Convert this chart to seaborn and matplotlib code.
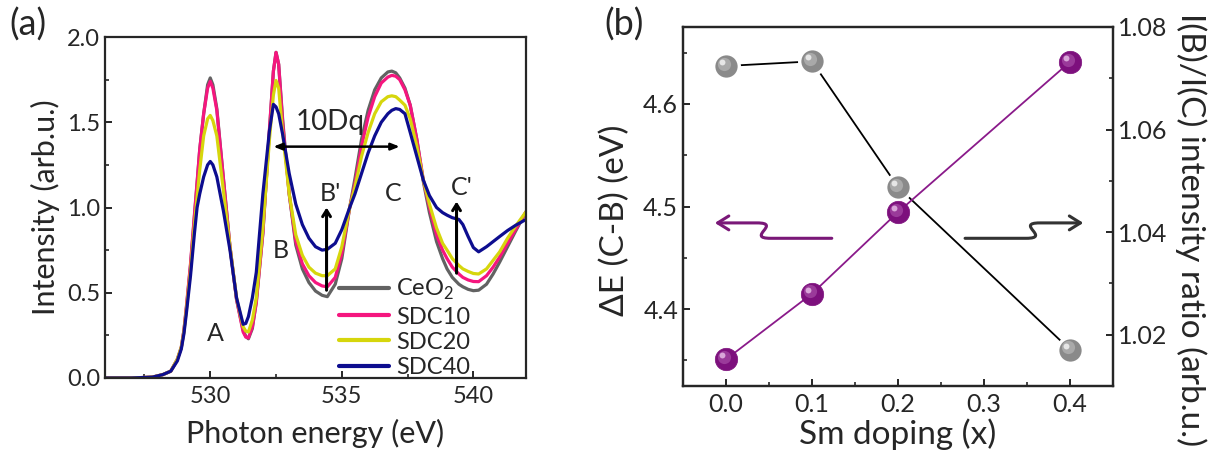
import matplotlib
matplotlib.use("Agg")
import matplotlib.pyplot as plt
import matplotlib.transforms as mtransforms
from matplotlib.path import Path
from matplotlib.patches import FancyArrowPatch
from matplotlib.ticker import MultipleLocator, FormatStrFormatter
import pandas as pd
import seaborn as sns

# ---- panel (a): O K-edge spectra ----
ENERGY = [526.0, 527.0, 527.8, 528.2, 528.5, 528.75, 528.9, 529.0, 529.1, 529.25,
          529.4, 529.5, 529.6, 529.75, 529.9, 530.0, 530.1, 530.25, 530.5, 530.75,
          531.0, 531.25, 531.35, 531.45, 531.6, 531.75, 532.0, 532.25, 532.4, 532.5,
          532.6, 532.75, 533.0, 533.25, 533.5, 533.75, 534.0, 534.25, 534.45, 534.75,
          535.0, 535.3, 535.5, 535.75, 536.0, 536.25, 536.5, 536.75, 536.9, 537.05,
          537.2, 537.4, 537.6, 537.85, 538.1, 538.33, 538.6, 538.83, 539.0, 539.2,
          539.45, 539.6, 539.8, 540.0, 540.2, 540.5, 540.75, 541.0, 541.3, 541.6,
          542.0]

CEO2 = [0.0, 0.0, 0.005, 0.02, 0.04, 0.11, 0.18, 0.28, 0.42, 0.66,
        0.95, 1.14, 1.34, 1.55, 1.72, 1.76, 1.72, 1.58, 1.17, 0.77,
        0.46, 0.28, 0.245, 0.23, 0.29, 0.45, 0.85, 1.45, 1.80, 1.91,
        1.84, 1.52, 1.08, 0.78, 0.64, 0.56, 0.51, 0.485, 0.477, 0.55,
        0.70, 1.00, 1.17, 1.40, 1.57, 1.69, 1.76, 1.795, 1.80, 1.79,
        1.76, 1.70, 1.60, 1.40, 1.15, 0.97, 0.80, 0.70, 0.64, 0.59,
        0.55, 0.535, 0.52, 0.512, 0.515, 0.55, 0.61, 0.68, 0.77, 0.86,
        0.975]

SDC10 = [0.0, 0.0, 0.005, 0.02, 0.04, 0.11, 0.18, 0.28, 0.43, 0.67,
         0.96, 1.15, 1.34, 1.55, 1.70, 1.74, 1.70, 1.57, 1.17, 0.77,
         0.46, 0.27, 0.24, 0.235, 0.30, 0.44, 0.85, 1.46, 1.80, 1.91,
         1.84, 1.50, 1.08, 0.80, 0.67, 0.60, 0.56, 0.54, 0.535, 0.59,
         0.73, 1.00, 1.14, 1.36, 1.53, 1.65, 1.73, 1.765, 1.775, 1.77,
         1.75, 1.69, 1.60, 1.40, 1.16, 1.00, 0.84, 0.75, 0.70, 0.65,
         0.61, 0.59, 0.575, 0.566, 0.565, 0.60, 0.65, 0.71, 0.79, 0.87,
         0.975]

SDC20 = [0.0, 0.0, 0.005, 0.02, 0.04, 0.11, 0.18, 0.27, 0.41, 0.63,
         0.90, 1.06, 1.22, 1.42, 1.52, 1.54, 1.51, 1.42, 1.10, 0.77,
         0.47, 0.30, 0.275, 0.27, 0.34, 0.47, 0.88, 1.40, 1.66, 1.745,
         1.70, 1.44, 1.08, 0.84, 0.72, 0.65, 0.615, 0.60, 0.60, 0.64,
         0.77, 1.00, 1.12, 1.30, 1.44, 1.55, 1.62, 1.65, 1.655, 1.65,
         1.63, 1.60, 1.52, 1.36, 1.16, 1.02, 0.88, 0.79, 0.75, 0.70,
         0.66, 0.64, 0.625, 0.613, 0.61, 0.64, 0.69, 0.74, 0.82, 0.89,
         0.975]

SDC40 = [0.0, 0.0, 0.005, 0.02, 0.04, 0.10, 0.17, 0.26, 0.39, 0.60,
         0.85, 1.00, 1.08, 1.18, 1.25, 1.27, 1.25, 1.18, 0.98, 0.75,
         0.47, 0.315, 0.32, 0.36, 0.47, 0.62, 1.08, 1.45, 1.605, 1.59,
         1.55, 1.43, 1.20, 1.02, 0.90, 0.82, 0.77, 0.75, 0.755, 0.79,
         0.87, 1.00, 1.08, 1.20, 1.32, 1.42, 1.50, 1.55, 1.57, 1.58,
         1.575, 1.55, 1.44, 1.30, 1.16, 1.07, 1.00, 0.97, 0.955, 0.94,
         0.93, 0.90, 0.83, 0.765, 0.74, 0.77, 0.80, 0.83, 0.865, 0.895,
         0.93]

SAMPLE_NAMES = ["CeO$_2$", "SDC10", "SDC20", "SDC40"]
SAMPLE_COLORS = ["#626262", "#f5167e", "#d6d60c", "#0d0d8f"]

# ---- panel (b): peak separation and intensity ratio ----
SM_DOPING = [0.0, 0.1, 0.2, 0.4]
DELTA_E = [4.351, 4.415, 4.4945, 4.641]
INTENSITY_RATIO = [1.0724, 1.0733, 1.0488, 1.0171]

PURPLE = "#7d107d"
PURPLE_LINE = "#8a1a8a"

sns.set_style("ticks")
plt.rcParams["font.family"] = ["Lato", "DejaVu Sans"]
plt.rcParams["mathtext.fontset"] = "custom"
plt.rcParams["mathtext.rm"] = "Lato"
plt.rcParams["axes.linewidth"] = 1.6
plt.rcParams["xtick.direction"] = "in"
plt.rcParams["ytick.direction"] = "in"
plt.rcParams["xtick.major.size"] = 5
plt.rcParams["ytick.major.size"] = 5
plt.rcParams["xtick.minor.size"] = 3
plt.rcParams["ytick.minor.size"] = 3
plt.rcParams["xtick.major.width"] = 1.4
plt.rcParams["ytick.major.width"] = 1.4
plt.rcParams["xtick.minor.width"] = 1.2
plt.rcParams["ytick.minor.width"] = 1.2

TICK_FS_A = 17
LABEL_FS_A = 22
TICK_FS_B = 18
LABEL_FS_B = 24

fig = plt.figure(figsize=(12.19, 4.59), dpi=100)
ax_a = fig.add_axes([105 / 1219, 81 / 459, 421 / 1219, 341 / 459])
ax_b = fig.add_axes([683 / 1219, 73 / 459, 430 / 1219, 359 / 459])

# ---------- (a) ----------
frames = []
for name, vals in zip(SAMPLE_NAMES, [CEO2, SDC10, SDC20, SDC40]):
    frames.append(pd.DataFrame({"energy": ENERGY, "intensity": vals, "sample": name}))
spec = pd.concat(frames, ignore_index=True)

sns.lineplot(data=spec, x="energy", y="intensity", hue="sample",
             hue_order=SAMPLE_NAMES, palette=SAMPLE_COLORS, estimator=None,
             sort=False, linewidth=2.3, ax=ax_a, legend=True)

ax_a.set_xlim(526, 542)
ax_a.set_ylim(0, 2.0)
ax_a.xaxis.set_major_locator(MultipleLocator(5))
ax_a.xaxis.set_minor_locator(MultipleLocator(2.5))
ax_a.yaxis.set_major_locator(MultipleLocator(0.5))
ax_a.yaxis.set_minor_locator(MultipleLocator(0.25))
ax_a.yaxis.set_major_formatter(FormatStrFormatter("%.1f"))
ax_a.tick_params(which="both", labelsize=TICK_FS_A)
ax_a.tick_params(axis="x", pad=6)
ax_a.set_xlabel("Photon energy (eV)", fontsize=LABEL_FS_A, labelpad=8)
ax_a.set_ylabel("Intensity (arb.u.)", fontsize=LABEL_FS_A, labelpad=5)

leg = ax_a.legend(loc="lower left", bbox_to_anchor=(0.556, 0.0), frameon=False,
                  fontsize=17, handlelength=2.1, handletextpad=0.3,
                  labelspacing=0.18, borderaxespad=0, borderpad=0.0)
for line in leg.get_lines():
    line.set_linewidth(3)

letter_fs = 18
ax_a.text(530.2, 0.26, "A", fontsize=letter_fs, ha="center", va="center")
ax_a.text(532.7, 0.75, "B", fontsize=letter_fs, ha="center", va="center")
ax_a.text(534.55, 1.08, "B'", fontsize=letter_fs, ha="center", va="center")
ax_a.text(536.95, 1.08, "C", fontsize=letter_fs, ha="center", va="center")
ax_a.text(539.55, 1.12, "C'", fontsize=letter_fs, ha="center", va="center")
ax_a.text(534.55, 1.50, "10Dq", fontsize=20, ha="center", va="center")

ax_a.annotate("", xy=(532.4, 1.357), xytext=(537.2, 1.357),
              arrowprops=dict(arrowstyle="<|-|>,head_length=0.5,head_width=0.2",
                              lw=1.8, color="black", shrinkA=0, shrinkB=0))
for ex, y0, y1 in [(534.42, 0.515, 1.0), (539.36, 0.615, 1.035)]:
    ax_a.annotate("", xy=(ex, y1), xytext=(ex, y0),
                  arrowprops=dict(arrowstyle="->,head_length=0.45,head_width=0.28",
                                  lw=2.2, color="black", shrinkA=0, shrinkB=0))

# ---------- (b) ----------
ax_r = ax_b.twinx()
ax_b.set_zorder(ax_r.get_zorder() + 1)
ax_b.patch.set_visible(False)

sns.lineplot(x=SM_DOPING, y=INTENSITY_RATIO, ax=ax_r, color="black", linewidth=1.3)
sns.scatterplot(x=SM_DOPING, y=INTENSITY_RATIO, ax=ax_r, s=340, color="#8a8a8a",
                edgecolor="white", linewidth=2.4, zorder=3)

sns.lineplot(x=SM_DOPING, y=DELTA_E, ax=ax_b, color=PURPLE_LINE, linewidth=1.3)
sns.scatterplot(x=SM_DOPING, y=DELTA_E, ax=ax_b, s=260, color=PURPLE,
                edgecolor=PURPLE, linewidth=0.5, zorder=3)


def add_shine(ax, xs, ys, mid, light):
    # a lighter spot up-left of centre so the balls look like spheres
    off1 = mtransforms.offset_copy(ax.transData, fig=fig, x=-1.6, y=1.6, units="points")
    off2 = mtransforms.offset_copy(ax.transData, fig=fig, x=-2.6, y=2.8, units="points")
    ax.scatter(xs, ys, s=90, color=mid, linewidth=0, transform=off1, zorder=4)
    ax.scatter(xs, ys, s=18, color=light, linewidth=0, transform=off2, zorder=5)


add_shine(ax_r, SM_DOPING, INTENSITY_RATIO, "#a9a9a9", "#e6e6e6")
add_shine(ax_b, SM_DOPING, DELTA_E, "#9a3a9a", "#d9a6d9")

ax_b.set_xlim(-0.05, 0.45)
ax_b.set_ylim(4.325, 4.675)
ax_r.set_ylim(1.01, 1.08)
ax_b.xaxis.set_major_locator(MultipleLocator(0.1))
ax_b.xaxis.set_minor_locator(MultipleLocator(0.05))
ax_b.yaxis.set_major_locator(MultipleLocator(0.1))
ax_b.yaxis.set_minor_locator(MultipleLocator(0.05))
ax_r.yaxis.set_major_locator(MultipleLocator(0.02))
ax_r.yaxis.set_minor_locator(MultipleLocator(0.01))
ax_b.xaxis.set_major_formatter(FormatStrFormatter("%.1f"))
ax_b.yaxis.set_major_formatter(FormatStrFormatter("%.1f"))
ax_r.yaxis.set_major_formatter(FormatStrFormatter("%.2f"))
ax_b.tick_params(which="both", labelsize=TICK_FS_B)
ax_b.tick_params(axis="x", pad=5)
ax_r.tick_params(which="both", labelsize=TICK_FS_B, direction="in")
ax_b.set_xlabel("Sm doping (x)", fontsize=LABEL_FS_B, labelpad=2)
ax_b.set_ylabel("\u0394E (C-B) (eV)", fontsize=LABEL_FS_B, va="center")
ax_b.yaxis.set_label_coords(-0.158, 0.462)
ax_r.set_ylabel("I(B)/I(C) intensity ratio (arb.u.)", fontsize=LABEL_FS_B,
                rotation=270, va="center")
ax_r.yaxis.set_label_coords(1.181, 0.435)
for sp in ax_r.spines.values():
    sp.set_linewidth(1.6)

# wavy "which axis" arrows
purple_path = Path([(0.123, 4.469), (0.052, 4.469), (0.022, 4.469), (0.066, 4.484),
                    (0.036, 4.484), (-0.013, 4.484)],
                   [Path.MOVETO, Path.LINETO, Path.CURVE4, Path.CURVE4, Path.CURVE4, Path.LINETO])
ax_b.add_patch(FancyArrowPatch(path=purple_path, arrowstyle="->,head_length=8,head_width=5",
                               color="#7a1878", lw=2.2, transform=ax_b.transData, zorder=2))
gray_path = Path([(0.278, 4.469), (0.349, 4.469), (0.379, 4.469), (0.335, 4.484),
                  (0.365, 4.484), (0.4155, 4.484)],
                 [Path.MOVETO, Path.LINETO, Path.CURVE4, Path.CURVE4, Path.CURVE4, Path.LINETO])
ax_b.add_patch(FancyArrowPatch(path=gray_path, arrowstyle="->,head_length=8,head_width=5",
                               color="#333333", lw=2.2, transform=ax_b.transData, zorder=2))

fig.text(28 / 1219, 1 - 25 / 459, "(a)", fontsize=26, ha="center", va="center")
fig.text(624 / 1219, 1 - 25 / 459, "(b)", fontsize=26, ha="center", va="center")

fig.savefig("out.png", dpi=100)
